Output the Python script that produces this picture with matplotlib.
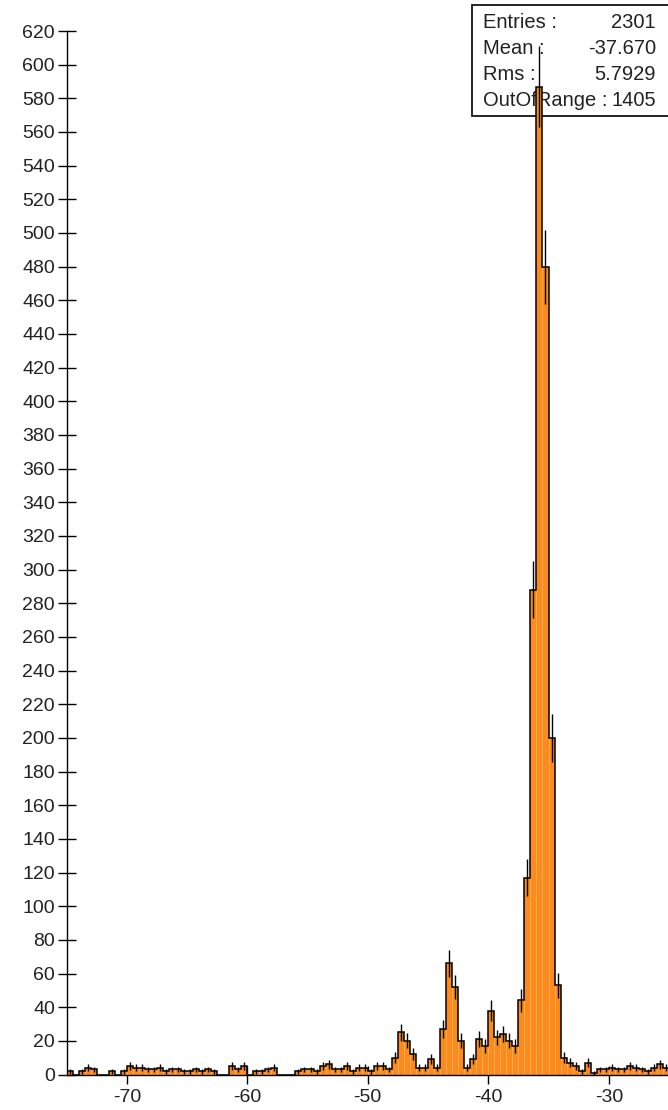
import numpy as np
import matplotlib.pyplot as plt
from matplotlib.patches import Rectangle

plt.rcParams['font.family'] = ['Liberation Sans', 'DejaVu Sans']

# histogram: 100 bins of width 0.5 between -75 and -25
x_lo = -75.0
x_hi = -25.0
counts = [2, 0, 2, 4, 3, 0, 0, 2, 0, 2,
          5, 4, 4, 3, 3, 4, 2, 3, 3, 2,
          2, 3, 2, 3, 2, 0, 0, 5, 3, 5,
          0, 2, 2, 3, 4, 0, 0, 0, 2, 3,
          3, 2, 5, 6, 3, 3, 5, 2, 4, 4,
          2, 5, 5, 3, 10, 25, 20, 12, 4, 4,
          9, 4, 27, 66, 52, 20, 4, 9, 21, 17,
          38, 22, 24, 20, 17, 44, 117, 288, 587, 480,
          200, 53, 10, 7, 5, 2, 7, 1, 3, 3,
          4, 3, 3, 5, 4, 3, 2, 4, 6, 4]

stat_labels = ['Entries :', 'Mean :', 'Rms :', 'OutOfRange :']
stat_values = ['2301', '-37.670', '5.7929', '1405']

xticks = [-70, -60, -50, -40, -30]
yticks = list(range(0, 621, 20))

counts = np.array(counts, dtype=float)
edges = np.linspace(x_lo, x_hi, len(counts) + 1)
centers = 0.5 * (edges[:-1] + edges[1:])

W, H = 668, 1110
fig = plt.figure(figsize=(W / 100, H / 100), dpi=100)
ax = fig.add_axes([66.5 / W, 1 - 1074.5 / H, (669 - 66.5) / W, (1074.5 - 31) / H])

orange = '#FC8A1C'
ax.stairs(counts, edges, fill=True, color=orange, zorder=2)

# faint lighter lines at the inner bin edges
inner = edges[1:-1]
low = np.minimum(counts[:-1], counts[1:])
ax.vlines(inner, 0, low, color='#FFA850', lw=0.8, zorder=2.2)

ax.stairs(counts, edges, color='black', lw=1.1, zorder=3)

nz = counts > 0
err = np.sqrt(counts[nz])
ax.vlines(centers[nz], counts[nz] - err, counts[nz] + err, color='black', lw=1.0, zorder=4)

ax.set_xlim(x_lo, x_hi)
ax.set_ylim(0, 620)
ax.set_xticks(xticks)
ax.set_xticklabels([str(t) for t in xticks])
ax.set_yticks(yticks)
ax.set_yticklabels([str(t) for t in yticks])

for s in ['top', 'right']:
    ax.spines[s].set_visible(False)
for s in ['left', 'bottom']:
    ax.spines[s].set_linewidth(1.0)
    ax.spines[s].set_zorder(5)

ax.tick_params(axis='both', direction='inout', length=12.5, width=1.0,
               labelsize=14, labelcolor='#222222')
ax.tick_params(axis='y', pad=2)
ax.tick_params(axis='x', pad=4)
ax.patch.set_visible(False)

# statistics box, drawn under the histogram
box = Rectangle((471.5 / W, 1 - 115.5 / H), (W + 5 - 471.5) / W, (115.5 - 4.5) / H,
                transform=fig.transFigure, facecolor='white', edgecolor='black',
                lw=1.2, clip_on=False, zorder=1)
ax.add_patch(box)
row_y = [22, 48, 74, 100]
for lab, val, yy in zip(stat_labels, stat_values, row_y):
    ax.text(483 / W, 1 - yy / H, lab, transform=fig.transFigure, ha='left', va='center',
            fontsize=14.5, color='#222222', zorder=1.5, clip_on=False)
    ax.text(656 / W, 1 - yy / H, val, transform=fig.transFigure, ha='right', va='center',
            fontsize=14.5, color='#222222', zorder=1.5, clip_on=False)

fig.savefig('out.png', dpi=100)
